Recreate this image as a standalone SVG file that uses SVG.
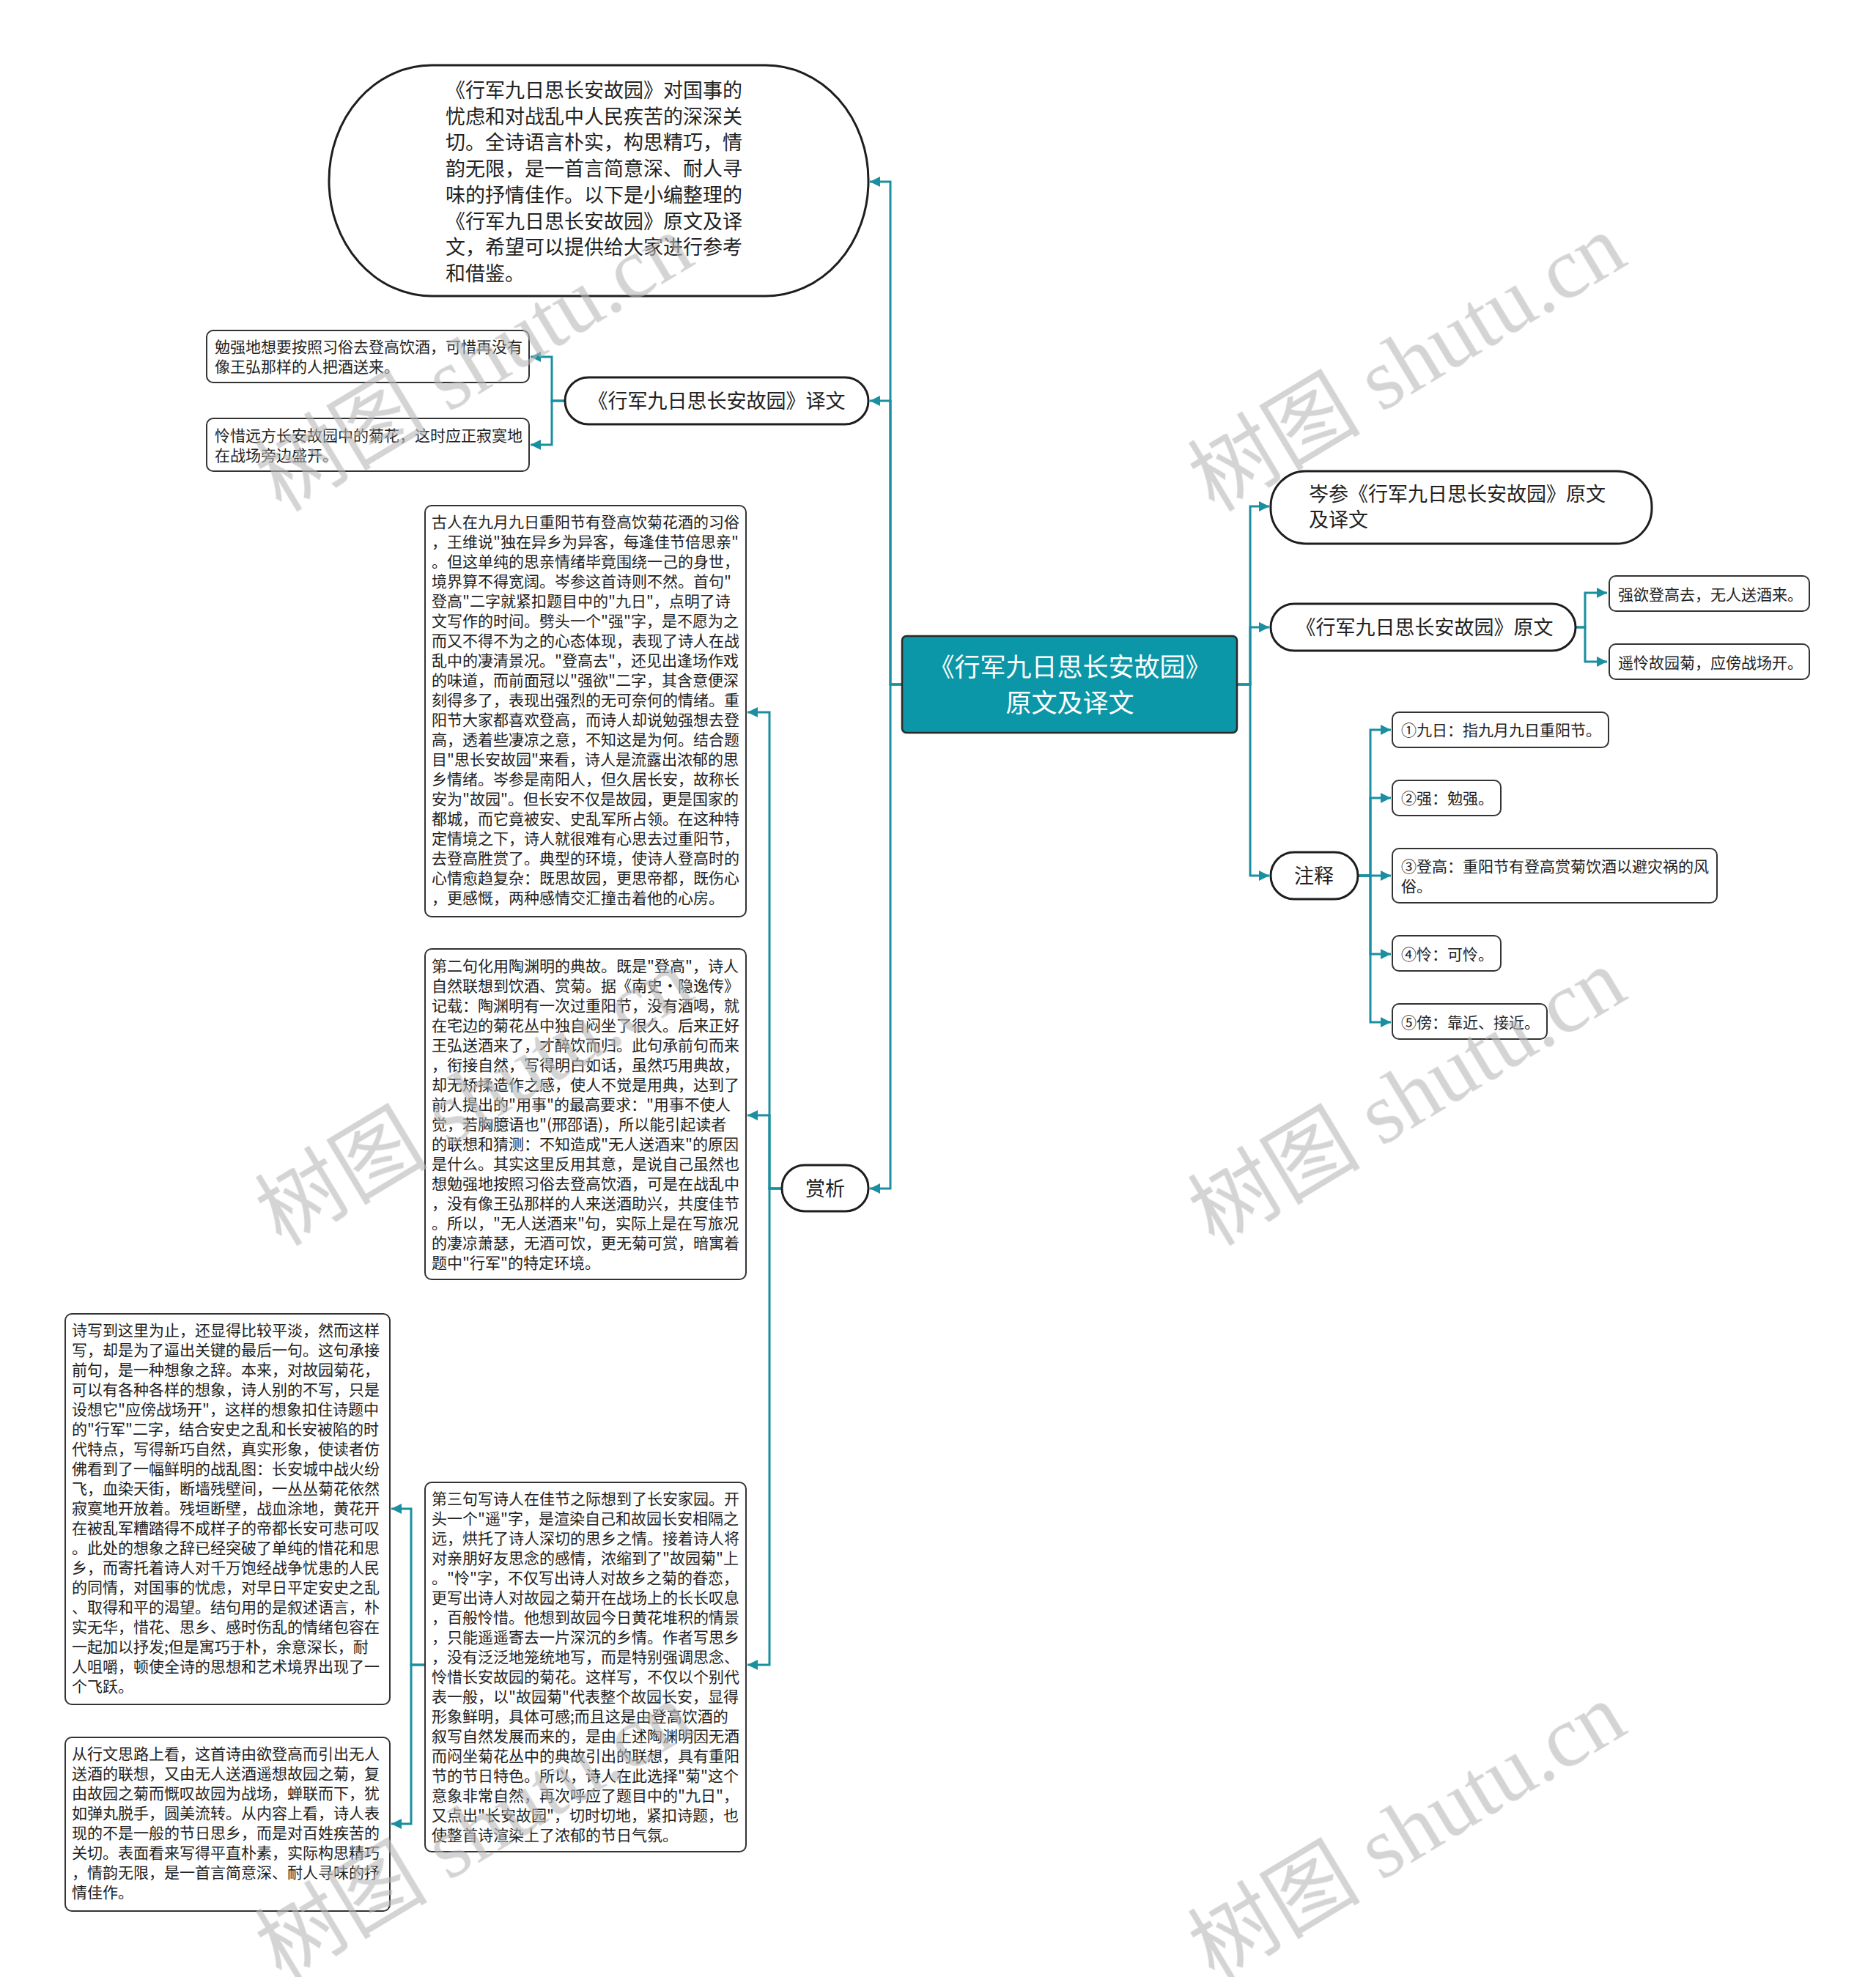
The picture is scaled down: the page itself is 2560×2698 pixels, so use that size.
<svg xmlns="http://www.w3.org/2000/svg" width="2560" height="2698" viewBox="0 0 2560 2698">
<style>
.bg{fill:#ffffff}
.pill{fill:#ffffff;stroke:#1e1e1e;stroke-width:3}
.box{fill:#ffffff;stroke:#333333;stroke-width:2}
.root{fill:#0b97a7;stroke:#2a2a2a;stroke-width:2.5}
.t{font-family:"Noto Sans CJK SC","Noto Sans",sans-serif;fill:#222222}
.t27{font-size:27px}
.t21{font-size:21px}
.rt{font-family:"Noto Sans CJK SC","Noto Sans",sans-serif;font-size:35px;fill:#ffffff}
.conn{fill:none;stroke:#1a8fa0;stroke-width:3;marker-end:url(#arr)}
.wm{font-size:118px;fill:#b8b8b8;opacity:0.6}
.wmc{font-family:"Noto Sans CJK SC",sans-serif}
.wml{font-family:"Liberation Serif",serif}
</style>
<defs>
<marker id="arr" markerUnits="userSpaceOnUse" markerWidth="16" markerHeight="14" refX="14" refY="7" orient="auto">
<path d="M0,0 L14,7 L0,14 z" fill="#1a8fa0"/>
</marker>
</defs>
<rect class="bg" x="0" y="0" width="2560" height="2698"/>

<g id="connectors">
<path class="conn" d="M1231,934 H1215 V248 H1187"/>
<path class="conn" d="M1231,934 H1215 V547 H1187"/>
<path class="conn" d="M1231,934 H1215 V1622 H1187"/>
<path class="conn" d="M771,547 H753 V487 H724"/>
<path class="conn" d="M771,547 H753 V607 H724"/>
<path class="conn" d="M1067,1622 H1050 V972 H1020"/>
<path class="conn" d="M1067,1622 H1050 V1522 H1020"/>
<path class="conn" d="M1067,1622 H1050 V2272 H1020"/>
<path class="conn" d="M580,2272 H561 V2059 H534"/>
<path class="conn" d="M580,2272 H561 V2489 H534"/>
<path class="conn" d="M1688,934 H1706 V691 H1732"/>
<path class="conn" d="M1688,934 H1706 V856 H1732"/>
<path class="conn" d="M1688,934 H1706 V1195 H1732"/>
<path class="conn" d="M2150,856 H2163 V809 H2193"/>
<path class="conn" d="M2150,856 H2163 V903 H2193"/>
<path class="conn" d="M1853,1195 H1870 V996 H1898"/>
<path class="conn" d="M1853,1195 H1870 V1089 H1898"/>
<path class="conn" d="M1853,1195 H1870 V1195 H1898"/>
<path class="conn" d="M1853,1195 H1870 V1302 H1898"/>
<path class="conn" d="M1853,1195 H1870 V1395 H1898"/>
</g>

<g id="root">
<rect class="root" x="1231" y="868" width="457" height="132" rx="6"/>
<text class="rt" x="1460" y="923" text-anchor="middle">《行军九日思长安故园》</text>
<text class="rt" x="1460" y="972" text-anchor="middle">原文及译文</text>
</g>

<g id="intro">
<rect class="pill" x="449" y="89" width="736" height="315" rx="140" ry="157"/>
<text class="t t27">
<tspan x="608" y="133">《行军九日思长安故园》对国事的</tspan>
<tspan x="608" y="169">忧虑和对战乱中人民疾苦的深深关</tspan>
<tspan x="608" y="204">切。全诗语言朴实，构思精巧，情</tspan>
<tspan x="608" y="240">韵无限，是一首言简意深、耐人寻</tspan>
<tspan x="608" y="276">味的抒情佳作。以下是小编整理的</tspan>
<tspan x="608" y="312">《行军九日思长安故园》原文及译</tspan>
<tspan x="608" y="347">文，希望可以提供给大家进行参考</tspan>
<tspan x="608" y="383">和借鉴。</tspan>
</text>
</g>

<g id="yiwen">
<rect class="pill" x="771" y="515" width="414" height="64" rx="32"/>
<text class="t t27" x="978" y="557" text-anchor="middle">《行军九日思长安故园》译文</text>
</g>

<g id="yiwen-1">
<rect class="box" x="282" y="451" width="440" height="71" rx="9"/>
<text class="t t21">
<tspan x="293" y="481">勉强地想要按照习俗去登高饮酒，可惜再没有</tspan>
<tspan x="293" y="508">像王弘那样的人把酒送来。</tspan>
</text>
</g>

<g id="yiwen-2">
<rect class="box" x="282" y="571" width="440" height="72" rx="9"/>
<text class="t t21">
<tspan x="293" y="602">怜惜远方长安故园中的菊花，这时应正寂寞地</tspan>
<tspan x="293" y="629">在战场旁边盛开。</tspan>
</text>
</g>

<g id="shangxi">
<rect class="pill" x="1067" y="1590" width="118" height="63" rx="31"/>
<text class="t t27" x="1126" y="1632" text-anchor="middle">赏析</text>
</g>

<g id="shangxi-1">
<rect class="box" x="580" y="690" width="438" height="561" rx="9"/>
<text class="t t21">
<tspan x="589" y="720">古人在九月九日重阳节有登高饮菊花酒的习俗</tspan>
<tspan x="589" y="747">，王维说"独在异乡为异客，每逢佳节倍思亲"</tspan>
<tspan x="589" y="774">。但这单纯的思亲情绪毕竟围绕一己的身世，</tspan>
<tspan x="589" y="801">境界算不得宽阔。岑参这首诗则不然。首句"</tspan>
<tspan x="589" y="828">登高"二字就紧扣题目中的"九日"，点明了诗</tspan>
<tspan x="589" y="855">文写作的时间。劈头一个"强"字，是不愿为之</tspan>
<tspan x="589" y="882">而又不得不为之的心态体现，表现了诗人在战</tspan>
<tspan x="589" y="909">乱中的凄清景况。"登高去"，还见出逢场作戏</tspan>
<tspan x="589" y="936">的味道，而前面冠以"强欲"二字，其含意便深</tspan>
<tspan x="589" y="963">刻得多了，表现出强烈的无可奈何的情绪。重</tspan>
<tspan x="589" y="990">阳节大家都喜欢登高，而诗人却说勉强想去登</tspan>
<tspan x="589" y="1017">高，透着些凄凉之意，不知这是为何。结合题</tspan>
<tspan x="589" y="1044">目"思长安故园"来看，诗人是流露出浓郁的思</tspan>
<tspan x="589" y="1071">乡情绪。岑参是南阳人，但久居长安，故称长</tspan>
<tspan x="589" y="1098">安为"故园"。但长安不仅是故园，更是国家的</tspan>
<tspan x="589" y="1125">都城，而它竟被安、史乱军所占领。在这种特</tspan>
<tspan x="589" y="1152">定情境之下，诗人就很难有心思去过重阳节，</tspan>
<tspan x="589" y="1179">去登高胜赏了。典型的环境，使诗人登高时的</tspan>
<tspan x="589" y="1206">心情愈趋复杂：既思故园，更思帝都，既伤心</tspan>
<tspan x="589" y="1233">，更感慨，两种感情交汇撞击着他的心房。</tspan>
</text>
</g>

<g id="shangxi-2">
<rect class="box" x="580" y="1295" width="438" height="451" rx="9"/>
<text class="t t21">
<tspan x="589" y="1326">第二句化用陶渊明的典故。既是"登高"，诗人</tspan>
<tspan x="589" y="1353">自然联想到饮酒、赏菊。据《南史·隐逸传》</tspan>
<tspan x="589" y="1380">记载：陶渊明有一次过重阳节，没有酒喝，就</tspan>
<tspan x="589" y="1407">在宅边的菊花丛中独自闷坐了很久。后来正好</tspan>
<tspan x="589" y="1434">王弘送酒来了，才醉饮而归。此句承前句而来</tspan>
<tspan x="589" y="1461">，衔接自然，写得明白如话，虽然巧用典故，</tspan>
<tspan x="589" y="1488">却无矫揉造作之感，使人不觉是用典，达到了</tspan>
<tspan x="589" y="1515">前人提出的"用事"的最高要求："用事不使人</tspan>
<tspan x="589" y="1542">觉，若胸臆语也"(邢邵语)，所以能引起读者</tspan>
<tspan x="589" y="1569">的联想和猜测：不知造成"无人送酒来"的原因</tspan>
<tspan x="589" y="1596">是什么。其实这里反用其意，是说自己虽然也</tspan>
<tspan x="589" y="1623">想勉强地按照习俗去登高饮酒，可是在战乱中</tspan>
<tspan x="589" y="1650">，没有像王弘那样的人来送酒助兴，共度佳节</tspan>
<tspan x="589" y="1677">。所以，"无人送酒来"句，实际上是在写旅况</tspan>
<tspan x="589" y="1704">的凄凉萧瑟，无酒可饮，更无菊可赏，暗寓着</tspan>
<tspan x="589" y="1731">题中"行军"的特定环境。</tspan>
</text>
</g>

<g id="shangxi-3">
<rect class="box" x="580" y="2023" width="438" height="504" rx="9"/>
<text class="t t21">
<tspan x="589" y="2053">第三句写诗人在佳节之际想到了长安家园。开</tspan>
<tspan x="589" y="2080">头一个"遥"字，是渲染自己和故园长安相隔之</tspan>
<tspan x="589" y="2107">远，烘托了诗人深切的思乡之情。接着诗人将</tspan>
<tspan x="589" y="2134">对亲朋好友思念的感情，浓缩到了"故园菊"上</tspan>
<tspan x="589" y="2161">。"怜"字，不仅写出诗人对故乡之菊的眷恋，</tspan>
<tspan x="589" y="2188">更写出诗人对故园之菊开在战场上的长长叹息</tspan>
<tspan x="589" y="2215">，百般怜惜。他想到故园今日黄花堆积的情景</tspan>
<tspan x="589" y="2242">，只能遥遥寄去一片深沉的乡情。作者写思乡</tspan>
<tspan x="589" y="2269">，没有泛泛地笼统地写，而是特别强调思念、</tspan>
<tspan x="589" y="2296">怜惜长安故园的菊花。这样写，不仅以个别代</tspan>
<tspan x="589" y="2323">表一般，以"故园菊"代表整个故园长安，显得</tspan>
<tspan x="589" y="2350">形象鲜明，具体可感;而且这是由登高饮酒的</tspan>
<tspan x="589" y="2377">叙写自然发展而来的，是由上述陶渊明因无酒</tspan>
<tspan x="589" y="2404">而闷坐菊花丛中的典故引出的联想，具有重阳</tspan>
<tspan x="589" y="2431">节的节日特色。所以，诗人在此选择"菊"这个</tspan>
<tspan x="589" y="2458">意象非常自然，再次呼应了题目中的"九日"，</tspan>
<tspan x="589" y="2485">又点出"长安故园"，切时切地，紧扣诗题，也</tspan>
<tspan x="589" y="2512">使整首诗渲染上了浓郁的节日气氛。</tspan>
</text>
</g>

<g id="shangxi-4">
<rect class="box" x="89" y="1793" width="443" height="533" rx="9"/>
<text class="t t21">
<tspan x="98" y="1823">诗写到这里为止，还显得比较平淡，然而这样</tspan>
<tspan x="98" y="1850">写，却是为了逼出关键的最后一句。这句承接</tspan>
<tspan x="98" y="1877">前句，是一种想象之辞。本来，对故园菊花，</tspan>
<tspan x="98" y="1904">可以有各种各样的想象，诗人别的不写，只是</tspan>
<tspan x="98" y="1931">设想它"应傍战场开"，这样的想象扣住诗题中</tspan>
<tspan x="98" y="1958">的"行军"二字，结合安史之乱和长安被陷的时</tspan>
<tspan x="98" y="1985">代特点，写得新巧自然，真实形象，使读者仿</tspan>
<tspan x="98" y="2012">佛看到了一幅鲜明的战乱图：长安城中战火纷</tspan>
<tspan x="98" y="2039">飞，血染天街，断墙残壁间，一丛丛菊花依然</tspan>
<tspan x="98" y="2066">寂寞地开放着。残垣断壁，战血涂地，黄花开</tspan>
<tspan x="98" y="2093">在被乱军糟踏得不成样子的帝都长安可悲可叹</tspan>
<tspan x="98" y="2120">。此处的想象之辞已经突破了单纯的惜花和思</tspan>
<tspan x="98" y="2147">乡，而寄托着诗人对千万饱经战争忧患的人民</tspan>
<tspan x="98" y="2174">的同情，对国事的忧虑，对早日平定安史之乱</tspan>
<tspan x="98" y="2201">、取得和平的渴望。结句用的是叙述语言，朴</tspan>
<tspan x="98" y="2228">实无华，惜花、思乡、感时伤乱的情绪包容在</tspan>
<tspan x="98" y="2255">一起加以抒发;但是寓巧于朴，余意深长，耐</tspan>
<tspan x="98" y="2282">人咀嚼，顿使全诗的思想和艺术境界出现了一</tspan>
<tspan x="98" y="2309">个飞跃。</tspan>
</text>
</g>

<g id="shangxi-5">
<rect class="box" x="89" y="2371" width="443" height="237" rx="9"/>
<text class="t t21">
<tspan x="98" y="2401">从行文思路上看，这首诗由欲登高而引出无人</tspan>
<tspan x="98" y="2428">送酒的联想，又由无人送酒遥想故园之菊，复</tspan>
<tspan x="98" y="2455">由故园之菊而慨叹故园为战场，蝉联而下，犹</tspan>
<tspan x="98" y="2482">如弹丸脱手，圆美流转。从内容上看，诗人表</tspan>
<tspan x="98" y="2509">现的不是一般的节日思乡，而是对百姓疾苦的</tspan>
<tspan x="98" y="2536">关切。表面看来写得平直朴素，实际构思精巧</tspan>
<tspan x="98" y="2563">，情韵无限，是一首言简意深、耐人寻味的抒</tspan>
<tspan x="98" y="2590">情佳作。</tspan>
</text>
</g>

<g id="title">
<rect class="pill" x="1734" y="643" width="520" height="99" rx="48"/>
<text class="t t27">
<tspan x="1786" y="684">岑参《行军九日思长安故园》原文</tspan>
<tspan x="1786" y="719">及译文</tspan>
</text>
</g>

<g id="yuanwen">
<rect class="pill" x="1734" y="824" width="416" height="64" rx="32"/>
<text class="t t27" x="1944" y="866" text-anchor="middle">《行军九日思长安故园》原文</text>
</g>

<g id="yuanwen-1">
<rect class="box" x="2196" y="786" width="273" height="48" rx="9"/>
<text class="t t21" x="2208" y="819">强欲登高去，无人送酒来。</text>
</g>

<g id="yuanwen-2">
<rect class="box" x="2196" y="879" width="273" height="48" rx="9"/>
<text class="t t21" x="2208" y="912">遥怜故园菊，应傍战场开。</text>
</g>

<g id="zhushi">
<rect class="pill" x="1734" y="1163" width="119" height="64" rx="32"/>
<text class="t t27" x="1793" y="1205" text-anchor="middle">注释</text>
</g>

<g id="zhushi-1">
<rect class="box" x="1900" y="972" width="295" height="48" rx="9"/>
<text class="t t21" x="1912" y="1004">①九日：指九月九日重阳节。</text>
</g>
<g id="zhushi-2">
<rect class="box" x="1900" y="1065" width="148" height="48" rx="9"/>
<text class="t t21" x="1912" y="1097">②强：勉强。</text>
</g>
<g id="zhushi-3">
<rect class="box" x="1900" y="1158" width="443" height="74" rx="9"/>
<text class="t t21">
<tspan x="1912" y="1190">③登高：重阳节有登高赏菊饮酒以避灾祸的风</tspan>
<tspan x="1912" y="1217">俗。</tspan>
</text>
</g>
<g id="zhushi-4">
<rect class="box" x="1900" y="1277" width="148" height="48" rx="9"/>
<text class="t t21" x="1912" y="1310">④怜：可怜。</text>
</g>
<g id="zhushi-5">
<rect class="box" x="1900" y="1370" width="211" height="48" rx="9"/>
<text class="t t21" x="1912" y="1403">⑤傍：靠近、接近。</text>
</g>

<g id="watermark" class="wm">
<text transform="translate(384,700) rotate(-31)"><tspan class="wmc">树图</tspan><tspan class="wml"> shutu.cn</tspan></text>
<text transform="translate(1657,700) rotate(-31)"><tspan class="wmc">树图</tspan><tspan class="wml"> shutu.cn</tspan></text>
<text transform="translate(384,1702) rotate(-31)"><tspan class="wmc">树图</tspan><tspan class="wml"> shutu.cn</tspan></text>
<text transform="translate(1657,1702) rotate(-31)"><tspan class="wmc">树图</tspan><tspan class="wml"> shutu.cn</tspan></text>
<text transform="translate(384,2704) rotate(-31)"><tspan class="wmc">树图</tspan><tspan class="wml"> shutu.cn</tspan></text>
<text transform="translate(1657,2704) rotate(-31)"><tspan class="wmc">树图</tspan><tspan class="wml"> shutu.cn</tspan></text>
</g>
</svg>
